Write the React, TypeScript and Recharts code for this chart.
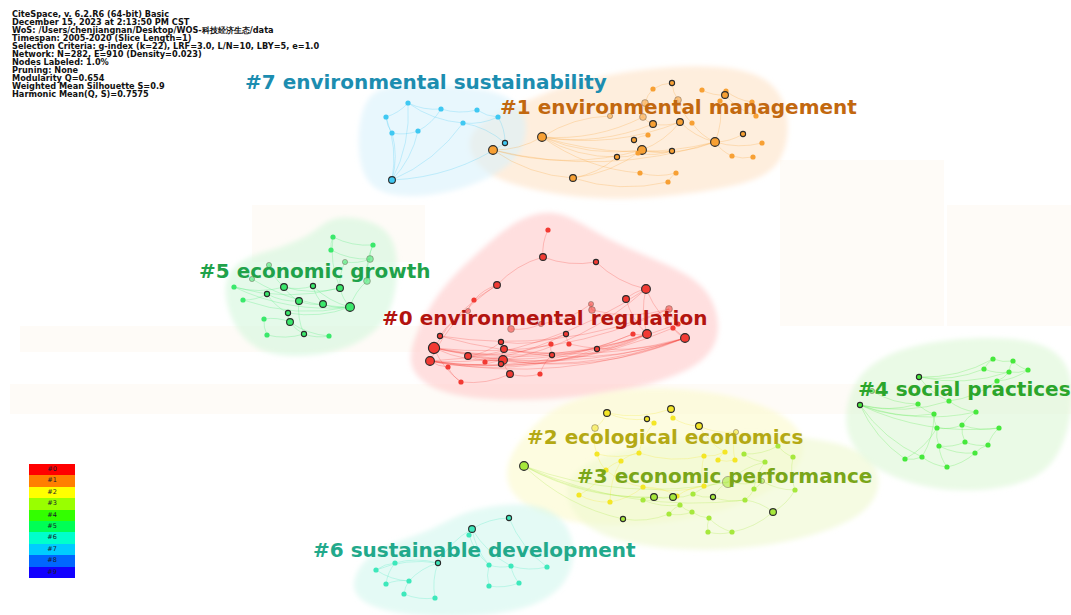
import React from 'react';
import { ScatterChart, Scatter, XAxis, YAxis, Curve } from 'recharts';

const W = 1071;
const H = 615;

// node = [x, y, freq level, ring (0 none, 1 outlined, 2 faded under label)]
type NodeRow = [number, number, number, number];
type EdgeRow = [number, number];

const c7Nodes: NodeRow[] = [
  [408, 103, 1, 0], [441, 109, 1, 0], [386, 117, 1, 0], [477, 110, 1, 0], [498, 117, 1, 0],
  [392, 133, 1, 0], [418, 131, 1, 0], [463, 123, 1, 0], [505, 143, 1, 1], [392, 180, 2, 1],
];
const c7Edges: EdgeRow[] = [
  [9, 2], [9, 5], [9, 6], [9, 7], [9, 8], [9, 0], [2, 0], [0, 1], [2, 5], [5, 6], [6, 1],
  [1, 3], [3, 4], [7, 4], [0, 7], [8, 7], [8, 4],
];
const c7Hull = [
  [362, 100], [385, 84], [440, 84], [500, 90], [530, 112], [524, 160], [470, 188], [420, 198], [368, 194], [356, 150],
];

const c1Nodes: NodeRow[] = [
  [672, 83, 1, 1], [653, 89, 1, 0], [702, 90, 1, 0], [726, 91, 1, 0], [725, 95, 2, 1],
  [645, 103, 2, 2], [678, 100, 2, 2], [720, 101, 1, 0], [752, 102, 1, 0], [610, 116, 1, 2],
  [643, 117, 2, 2], [653, 124, 2, 1], [680, 122, 2, 1], [692, 123, 1, 0], [756, 116, 1, 0],
  [542, 137, 3, 1], [648, 135, 1, 0], [634, 140, 1, 1], [715, 142, 3, 1], [743, 134, 1, 1],
  [762, 143, 1, 0], [642, 150, 3, 1], [638, 153, 1, 0], [672, 151, 1, 1], [617, 157, 1, 1],
  [493, 150, 3, 1], [732, 156, 1, 0], [753, 157, 1, 0], [573, 178, 2, 1], [640, 173, 1, 0],
  [676, 173, 1, 0], [668, 182, 1, 0],
];
const c1Edges: EdgeRow[] = [
  [25, 15], [25, 21], [25, 28], [25, 18], [15, 10], [15, 21], [15, 11], [15, 18], [15, 24], [15, 29],
  [15, 12], [28, 21], [28, 31], [28, 24], [21, 18], [21, 12], [21, 23], [11, 12], [12, 18], [18, 19],
  [18, 20], [18, 26], [18, 7], [4, 3], [4, 7], [4, 14], [0, 1], [0, 6], [6, 13], [5, 10], [10, 11],
  [16, 17], [22, 23], [29, 30], [30, 31], [26, 27], [8, 14], [2, 4], [9, 15], [13, 18], [24, 22],
  [17, 21], [3, 8], [1, 5],
];
const c1Hull = [
  [472, 125], [520, 104], [565, 84], [640, 68], [722, 64], [775, 78], [792, 120], [782, 172],
  [730, 188], [660, 198], [580, 200], [492, 182], [466, 152],
];

const c0Nodes: NodeRow[] = [
  [548, 230, 1, 0], [543, 257, 2, 1], [596, 262, 1, 1], [497, 285, 2, 1], [646, 289, 3, 1],
  [626, 299, 2, 1], [474, 300, 1, 0], [591, 304, 1, 2], [592, 310, 2, 2], [669, 309, 2, 2],
  [468, 311, 1, 2], [511, 329, 2, 2], [541, 324, 1, 2], [678, 324, 1, 0], [673, 328, 1, 0],
  [440, 336, 1, 1], [566, 334, 1, 1], [633, 334, 1, 0], [647, 334, 3, 1], [685, 338, 3, 1],
  [434, 348, 4, 1], [501, 342, 1, 1], [504, 349, 2, 1], [551, 344, 1, 0], [569, 344, 1, 0],
  [597, 349, 1, 1], [468, 356, 2, 1], [552, 355, 1, 1], [430, 361, 3, 1], [503, 360, 3, 1],
  [485, 362, 1, 0], [501, 364, 1, 1], [448, 367, 1, 0], [510, 374, 2, 1], [540, 374, 1, 0],
  [461, 382, 1, 0],
];
const c0Edges: EdgeRow[] = [
  [0, 1], [1, 2], [1, 3], [2, 4], [3, 6], [3, 28], [3, 20], [4, 5], [4, 18], [4, 19], [5, 18],
  [6, 10], [28, 19], [28, 18], [28, 4], [20, 19], [20, 18], [20, 13], [20, 9], [28, 14], [28, 17],
  [28, 25], [29, 19], [29, 18], [29, 4], [22, 19], [22, 18], [26, 19], [26, 17], [15, 19], [15, 9],
  [28, 29], [20, 29], [20, 35], [28, 32], [32, 35], [29, 33], [33, 34], [29, 30], [26, 21], [21, 16],
  [16, 24], [23, 27], [27, 34], [25, 18], [11, 12], [12, 7], [7, 8], [8, 9], [9, 13], [13, 14],
  [14, 19], [17, 18], [10, 15], [28, 16], [20, 23], [35, 33], [31, 29], [22, 31], [24, 19], [26, 29],
];
const c0Hull = [
  [414, 336], [438, 290], [480, 250], [520, 216], [560, 208], [602, 238], [662, 262], [708, 284],
  [724, 330], [704, 368], [622, 394], [520, 402], [440, 396], [406, 370],
];

const c5Nodes: NodeRow[] = [
  [333, 237, 1, 0], [373, 245, 1, 0], [331, 250, 1, 0], [370, 259, 2, 2], [345, 262, 1, 2],
  [269, 265, 1, 2], [367, 281, 2, 2], [252, 279, 1, 2], [234, 287, 1, 0], [284, 287, 2, 1],
  [313, 286, 1, 1], [340, 288, 2, 1], [267, 294, 1, 1], [299, 301, 2, 1], [243, 300, 1, 0],
  [323, 304, 2, 1], [350, 307, 3, 1], [288, 313, 1, 1], [290, 322, 2, 1], [264, 319, 1, 0],
  [267, 335, 1, 0], [304, 334, 1, 1], [329, 336, 1, 0],
];
const c5Edges: EdgeRow[] = [
  [0, 1], [0, 2], [2, 3], [1, 3], [3, 6], [4, 11], [0, 11], [1, 6], [8, 9], [8, 16], [8, 11],
  [7, 16], [14, 16], [9, 11], [9, 10], [10, 16], [12, 13], [13, 15], [15, 16], [11, 16], [17, 18],
  [18, 19], [18, 22], [18, 21], [20, 21], [21, 22], [13, 21], [9, 13], [12, 17], [14, 12], [5, 9],
  [6, 16], [10, 15], [17, 16], [19, 20], [4, 3],
];
const c5Hull = [
  [220, 286], [238, 258], [282, 248], [316, 232], [330, 216], [368, 218], [398, 236], [398, 292],
  [382, 332], [332, 356], [270, 358], [236, 336],
];

const c4Nodes: NodeRow[] = [
  [993, 359, 1, 0], [1013, 361, 1, 0], [984, 369, 1, 0], [1009, 372, 1, 0], [1028, 370, 1, 0],
  [919, 377, 1, 1], [997, 381, 1, 0], [872, 391, 1, 2], [860, 405, 1, 1], [918, 404, 1, 0],
  [949, 401, 1, 0], [976, 412, 1, 0], [934, 414, 1, 0], [937, 428, 1, 0], [962, 425, 1, 0],
  [999, 428, 1, 0], [939, 446, 1, 0], [965, 442, 1, 0], [988, 445, 1, 0], [975, 453, 1, 0],
  [905, 459, 1, 0], [922, 457, 1, 0], [947, 467, 1, 0],
];
const c4Edges: EdgeRow[] = [
  [0, 1], [0, 2], [2, 3], [1, 3], [3, 4], [1, 4], [5, 0], [5, 2], [5, 3], [8, 9], [8, 10], [8, 12],
  [8, 11], [8, 15], [7, 9], [9, 12], [10, 11], [12, 13], [13, 14], [11, 14], [14, 15], [13, 16],
  [14, 17], [16, 17], [17, 18], [18, 19], [16, 19], [20, 21], [21, 22], [16, 22], [20, 13],
  [21, 12], [22, 19], [5, 10], [6, 4], [6, 3], [10, 6], [15, 18], [8, 20], [8, 21],
];
const c4Hull = [
  [846, 396], [868, 362], [920, 342], [990, 336], [1048, 342], [1074, 370], [1072, 422],
  [1052, 474], [1000, 490], [940, 492], [878, 474], [844, 440],
];

const c2Nodes: NodeRow[] = [
  [607, 413, 2, 1], [671, 409, 2, 1], [647, 419, 1, 1], [673, 418, 1, 0], [654, 423, 1, 0],
  [595, 428, 2, 2], [699, 426, 2, 1], [736, 432, 1, 2], [597, 454, 1, 0], [639, 453, 1, 0],
  [621, 461, 1, 0], [704, 456, 1, 0], [725, 452, 1, 0], [718, 460, 1, 0], [735, 460, 1, 0],
  [606, 470, 1, 0], [643, 487, 1, 0], [704, 486, 1, 0], [579, 495, 1, 0], [610, 502, 1, 0],
  [677, 496, 1, 0],
];
const c2Edges: EdgeRow[] = [
  [0, 1], [0, 2], [1, 3], [2, 4], [3, 6], [5, 0], [5, 8], [6, 7], [8, 9], [9, 10], [10, 15],
  [11, 12], [12, 13], [13, 14], [9, 11], [15, 16], [16, 17], [18, 19], [19, 16], [17, 20],
  [20, 16], [4, 9], [6, 12], [8, 15], [7, 14], [11, 17], [18, 15], [10, 19],
];
const c2Hull = [
  [504, 462], [528, 430], [560, 402], [620, 388], [692, 388], [762, 402], [808, 430], [802, 472],
  [742, 508], [650, 528], [560, 524], [508, 498],
];

const c3Nodes: NodeRow[] = [
  [524, 466, 3, 1], [744, 454, 1, 0], [778, 446, 1, 0], [793, 457, 1, 0], [765, 462, 1, 0],
  [728, 482, 4, 2], [762, 481, 1, 2], [795, 490, 1, 0], [654, 497, 2, 1], [673, 497, 2, 1],
  [713, 497, 1, 1], [643, 500, 1, 0], [693, 494, 1, 0], [680, 505, 1, 0], [745, 500, 1, 0],
  [754, 489, 1, 0], [669, 514, 1, 0], [692, 512, 1, 0], [709, 518, 1, 0], [623, 519, 1, 1],
  [773, 512, 2, 1], [708, 532, 1, 0], [732, 532, 1, 0],
];
const c3Edges: EdgeRow[] = [
  [0, 5], [0, 8], [0, 9], [0, 19], [0, 14], [1, 2], [2, 3], [1, 4], [4, 5], [5, 6], [6, 7], [3, 7],
  [5, 10], [8, 9], [9, 12], [12, 10], [11, 13], [13, 16], [16, 17], [17, 18], [18, 21], [21, 22],
  [22, 20], [20, 14], [14, 15], [15, 6], [10, 14], [19, 16], [13, 17], [8, 11], [5, 12], [4, 15],
  [20, 7], [18, 22],
];
const c3Hull = [
  [558, 482], [600, 454], [680, 438], [760, 432], [852, 442], [884, 470], [874, 512], [812, 538],
  [730, 552], [640, 548], [578, 528],
];

const c6Nodes: NodeRow[] = [
  [509, 518, 1, 1], [472, 529, 2, 1], [469, 535, 1, 0], [438, 563, 1, 1], [395, 563, 1, 0],
  [376, 570, 1, 0], [489, 565, 1, 0], [511, 566, 1, 0], [547, 567, 1, 0], [409, 581, 1, 0],
  [386, 584, 1, 0], [489, 586, 1, 0], [519, 583, 1, 0], [404, 594, 1, 0], [435, 598, 1, 0],
];
const c6Edges: EdgeRow[] = [
  [0, 1], [1, 2], [1, 3], [3, 4], [4, 5], [5, 9], [9, 10], [4, 10], [9, 13], [13, 14], [3, 14],
  [3, 9], [1, 6], [1, 7], [6, 7], [7, 8], [6, 11], [11, 12], [7, 12], [0, 8], [2, 6], [3, 5],
];
const c6Hull = [
  [352, 576], [374, 548], [430, 532], [460, 512], [510, 502], [558, 508], [578, 545], [568, 588],
  [520, 614], [440, 618], [384, 612], [354, 598],
];

const clusterLabels = [
  '#0 environmental regulation',
  '#1 environmental management',
  '#2 ecological economics',
  '#3 economic performance',
  '#4 social practices',
  '#5 economic growth',
  '#6 sustainable development',
  '#7 environmental sustainability',
];
const labelAnchors = [
  [382, 325], [500, 114], [527, 444], [577, 483], [858, 396], [199, 278], [313, 557], [245, 89],
];

const legendKeys = ['#0', '#1', '#2', '#3', '#4', '#5', '#6', '#7', '#8', '#9'];
const legendColors = [
  '#ff0000', '#ff7f00', '#ffff00', '#99ff00', '#33ff00', '#00ff55', '#00ffcc', '#00ccff', '#0066ff', '#1100ff',
];

const infoLines = [
  'CiteSpace, v. 6.2.R6 (64-bit) Basic',
  'December 15, 2023 at 2:13:50 PM CST',
  'WoS: /Users/chenjiangnan/Desktop/WOS-科技经济生态/data',
  'Timespan: 2005-2020 (Slice Length=1)',
  'Selection Criteria: g-index (k=22), LRF=3.0, L/N=10, LBY=5, e=1.0',
  'Network: N=282, E=910 (Density=0.023)',
  'Nodes Labeled: 1.0%',
  'Pruning: None',
  'Modularity Q=0.654',
  'Weighted Mean Silhouette S=0.9',
  'Harmonic Mean(Q, S)=0.7575',
];

// faint watermark blocks behind the map
const watermark = [
  [252, 205, 425, 262], [780, 160, 944, 326], [947, 205, 1071, 326], [20, 326, 420, 352], [10, 384, 1071, 414],
];

const clusters = [
  { nodes: c0Nodes, edges: c0Edges, hull: c0Hull, dot: '#f23a33', veil: '#ffc9c9', text: '#b3140f' },
  { nodes: c1Nodes, edges: c1Edges, hull: c1Hull, dot: '#f7a034', veil: '#fde2c6', text: '#c2680f' },
  { nodes: c2Nodes, edges: c2Edges, hull: c2Hull, dot: '#f4e626', veil: '#fbfacb', text: '#b4a914' },
  { nodes: c3Nodes, edges: c3Edges, hull: c3Hull, dot: '#a6e83c', veil: '#eef8cf', text: '#7aa619' },
  { nodes: c4Nodes, edges: c4Edges, hull: c4Hull, dot: '#46e83c', veil: '#dcf7d5', text: '#2ba52b' },
  { nodes: c5Nodes, edges: c5Edges, hull: c5Hull, dot: '#3ae86b', veil: '#d3f6dc', text: '#1fa24a' },
  { nodes: c6Nodes, edges: c6Edges, hull: c6Hull, dot: '#3de8bb', veil: '#d2f7ee', text: '#22a98b' },
  { nodes: c7Nodes, edges: c7Edges, hull: c7Hull, dot: '#3fc8f2', veil: '#d9f1fb', text: '#1c8db0' },
];

const radius = [0, 2.6, 3.4, 4.4, 5.6];

function HullPath(props: any) {
  const { points, tint, fid } = props;
  return (
    <g>
      <defs>
        <filter id={fid} x="-10%" y="-10%" width="120%" height="120%">
          <feGaussianBlur stdDeviation="2.5" />
        </filter>
      </defs>
      <Curve points={points} type="basisClosed" fill={tint} fillOpacity={0.6} stroke="none" filter={`url(#${fid})`} />
    </g>
  );
}

function EdgePaths(props: any) {
  const { points, tint } = props;
  const paths = [];
  for (let i = 0; i + 1 < points.length; i += 2) {
    const a = points[i];
    const b = points[i + 1];
    const mx = (a.x + b.x) / 2;
    const my = (a.y + b.y) / 2;
    const dx = b.x - a.x;
    const dy = b.y - a.y;
    const k = 0.14;
    const qx = mx - dy * k;
    const qy = my + dx * k;
    paths.push(
      <path key={i} d={`M${a.x},${a.y} Q${qx},${qy} ${b.x},${b.y}`} fill="none" stroke={tint} strokeOpacity={0.32} strokeWidth={0.8} />
    );
  }
  return <g>{paths}</g>;
}

function WatermarkRects(props: any) {
  const { points } = props;
  const rects = [];
  for (let i = 0; i + 1 < points.length; i += 2) {
    const a = points[i];
    const b = points[i + 1];
    rects.push(<rect key={i} x={a.x} y={a.y} width={b.x - a.x} height={b.y - a.y} fill="#fcf5ea" fillOpacity={0.4} />);
  }
  return <g>{rects}</g>;
}

const noMark = () => <g />;

function NodeDot(props: any) {
  const { cx, cy, payload, fill } = props;
  const r = radius[payload.freq];
  if (payload.ring === 2) {
    return <circle cx={cx} cy={cy} r={r} fill={fill} fillOpacity={0.55} stroke="#6b5a50" strokeOpacity={0.45} strokeWidth={1} />;
  }
  if (payload.ring === 1) {
    return <circle cx={cx} cy={cy} r={r} fill={fill} stroke="#2a2a2a" strokeWidth={1.1} />;
  }
  return <circle cx={cx} cy={cy} r={r} fill={fill} />;
}

function LabelText(props: any) {
  const { cx, cy, payload } = props;
  return (
    <text x={cx} y={cy} fill={payload.color} fontFamily="'DejaVu Sans', sans-serif" fontWeight="bold" fontSize={20}>
      {payload.text}
    </text>
  );
}

export default function App() {
  const pts = (rows: number[][]) => rows.map(([x, y]) => ({ x, y }));
  const edgePts = (c: (typeof clusters)[number]) =>
    c.edges.flatMap(([a, b]) => [
      { x: c.nodes[a][0], y: c.nodes[a][1] },
      { x: c.nodes[b][0], y: c.nodes[b][1] },
    ]);
  const nodePts = (c: (typeof clusters)[number]) =>
    c.nodes.map(([x, y, freq, ring]) => ({ x, y, freq, ring }));
  const wmPts = watermark.flatMap(([x1, y1, x2, y2]) => [{ x: x1, y: y1 }, { x: x2, y: y2 }]);
  const labelPts = clusterLabels.map((text, i) => ({
    x: labelAnchors[i][0],
    y: labelAnchors[i][1],
    text,
    color: clusters[i].text,
  }));

  return (
    <div style={{ position: 'absolute', left: 0, top: 0, width: W, height: H, background: '#ffffff', overflow: 'hidden' }}>
      <ScatterChart width={W} height={H} margin={{ top: 0, right: 0, bottom: 0, left: 0 }}>
        <XAxis type="number" dataKey="x" domain={[0, W]} allowDataOverflow hide />
        <YAxis type="number" dataKey="y" domain={[0, H]} allowDataOverflow reversed hide />
        <Scatter data={wmPts} shape={noMark} line={<WatermarkRects />} isAnimationActive={false} />
        {clusters.map((c, i) => (
          <Scatter key={`hull${i}`} data={pts(c.hull)} shape={noMark} line={<HullPath tint={c.veil} fid={`soft${i}`} />} isAnimationActive={false} />
        ))}
        {clusters.map((c, i) => (
          <Scatter key={`edge${i}`} data={edgePts(c)} shape={noMark} line={<EdgePaths tint={c.dot} />} isAnimationActive={false} />
        ))}
        {clusters.map((c, i) => (
          <Scatter key={`node${i}`} data={nodePts(c)} fill={c.dot} shape={NodeDot} isAnimationActive={false} />
        ))}
        <Scatter data={labelPts} shape={LabelText} isAnimationActive={false} />
      </ScatterChart>

      <div
        style={{
          position: 'absolute',
          left: 12,
          top: 10,
          fontFamily: "'DejaVu Sans', sans-serif",
          fontWeight: 'bold',
          fontSize: 8.2,
          lineHeight: '8px',
          color: '#111',
          whiteSpace: 'nowrap',
        }}
      >
        {infoLines.map((line) => (
          <div key={line}>{line}</div>
        ))}
      </div>

      <div style={{ position: 'absolute', left: 29, top: 464, width: 46 }}>
        {legendKeys.map((k, i) => (
          <div
            key={k}
            style={{
              height: 11.4,
              background: legendColors[i],
              color: '#1a1a2a',
              fontFamily: "'DejaVu Sans', sans-serif",
              fontSize: 6.5,
              lineHeight: '11.4px',
              textAlign: 'center',
            }}
          >
            {k}
          </div>
        ))}
      </div>
    </div>
  );
}
